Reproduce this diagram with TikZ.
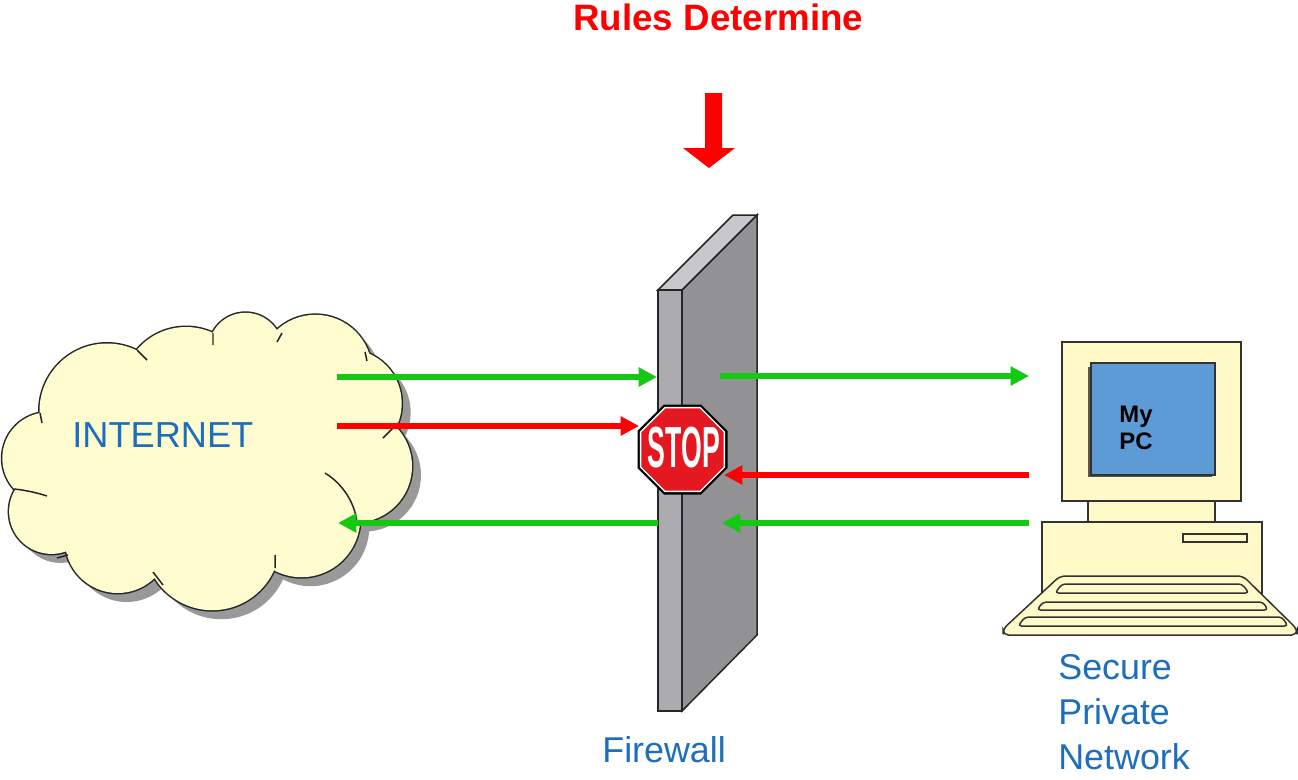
\documentclass[tikz,border=0pt]{standalone}
\usepackage{fontspec}
\setmainfont{Liberation Sans}
\usepackage{graphicx}
\usetikzlibrary{arrows.meta}
\definecolor{cloudfill}{RGB}{255,252,208}
\definecolor{pcfill}{RGB}{255,250,200}
\definecolor{txtblue}{RGB}{30,110,190}
\definecolor{agreen}{RGB}{20,200,20}
\definecolor{ared}{RGB}{255,0,0}
\definecolor{scrblue}{RGB}{92,155,213}
\definecolor{fwfront}{RGB}{172,172,176}
\definecolor{fwside}{RGB}{146,146,148}
\definecolor{fwtop}{RGB}{200,200,204}
\definecolor{stopred}{RGB}{228,24,32}
\newcommand\cloudcircles{(48.2,458.2) circle (45.9) (51.5,511.5) circle (42.4)
 (107,411) circle (67.5) (186,391) circle (64) (245.5,349.8) circle (37)
 (315.4,371.5) circle (56.7) (347.4,403.4) circle (54.3) (355.7,466.2) circle (56.3)
 (301.5,518.5) circle (58.7) (212.3,542.5) circle (67.7) (117.7,540.2) circle (52.8)}
\newcommand\cloudcore{(46,415) -- (139,356) -- (213,339) -- (278,338) -- (362,357) -- (392,424)
 -- (353,518) -- (275,562) -- (153,571) -- (70,548) -- (22,490) -- cycle}
\begin{document}
\begin{tikzpicture}[x=0.02cm,y=-0.02cm,
  outl/.style={draw=black!85, line width=0.85pt},
  flow/.style={line width=3.3pt, -{Triangle[length=10.5pt,width=10.5pt]}},
  gflow/.style={flow, draw=agreen},
  rflow/.style={flow, draw=ared},
  lbl/.style={text=txtblue, font=\fontsize{20.4}{24}\selectfont, anchor=base west, inner sep=0pt},
  pclbl/.style={text=black, font=\fontsize{13.6}{16}\selectfont\bfseries, anchor=base west, inner sep=0pt},
  pcpart/.style={draw=black!80, line width=0.85pt, fill=pcfill}
]
\useasboundingbox (0,0) rectangle (1298,779);
\fill[white] (0,0) rectangle (1298,779);

% ---- cloud ----
\begin{scope}[shift={(9,9)}]
  \fill[black!40] \cloudcircles;
  \fill[black!40] \cloudcore;
\end{scope}
\draw[draw=black!85, line width=1.7pt] \cloudcircles;
\fill[cloudfill] \cloudcircles;
\fill[cloudfill] \cloudcore;
\draw[draw=black!85, line width=0.85pt]
  (40,413) -- (42,423)
  (137,350) -- (147,360)
  (213,333) -- (213,345)
  (277,342) -- (282,333)
  (365,352) -- (367,361)
  (398,423) -- (383,438)
  (325,473) .. controls (343,484) and (355,503) .. (357,523)
  (275,555) -- (275,568)
  (153,572) -- (163,585)
  (68,555) -- (57,558)
  (14,489) .. controls (25,490) and (38,493) .. (47,496);
\node[lbl, font=\fontsize{20.6}{24}\selectfont] (internet) at (72,447) {INTERNET};

% ---- firewall ----
\draw[outl, fill=fwside] (682,290) -- (757,215) -- (757,635) -- (682,711) -- cycle;
\draw[outl, fill=fwtop] (658,290) -- (682,290) -- (757,215) -- (733,215) -- cycle;
\draw[outl, fill=fwfront] (658,290) rectangle (682,711);
\node[lbl] (fwlabel) at (602,762) {Firewall};

% ---- rules arrow ----
\node[anchor=base west, inner sep=0pt, text=ared, font=\fontsize{20.9}{24}\selectfont\bfseries] (rules) at (573,30) {Rules Determine};
\fill[ared] (705,93) -- (722,93) -- (722,148) -- (735,148) -- (709,168) -- (683,148) -- (705,148) -- cycle;

% ---- PC ----
\draw[pcpart] (1042,522) rectangle (1262,600);
\draw[pcpart] (1088,501) rectangle (1215,522);
\draw[pcpart] (1062,342) rectangle (1241,501);
\fill[black!65] (1088,367) rectangle (1212,476.5);
\draw[draw=black!80, line width=0.85pt, fill=scrblue] (1091,363) rectangle (1215,475);
\draw[pcpart] (1183,534) rectangle (1247,542);
\draw[pcpart, rounded corners=3pt] (1060,576) -- (1243,576) -- (1297,629) -- (1297,635) -- (1003,635) -- (1003,629) -- cycle;
\draw[pcpart, rounded corners=2pt] (1062,584) -- (1242,584) -- (1249,593) -- (1055,593) -- cycle;
\draw[pcpart, rounded corners=2pt] (1043,602) -- (1263,602) -- (1268,610) -- (1037,610) -- cycle;
\draw[pcpart, rounded corners=2pt] (1025,617) -- (1282,617) -- (1288,626) -- (1018,626) -- cycle;
\node[pclbl] (my) at (1119,422) {My};
\node[pclbl] (pc) at (1119,449) {PC};
\node[lbl] (sec1) at (1058,679) {Secure};
\node[lbl] (sec2) at (1058,724) {Private};
\node[lbl] (sec3) at (1058,769) {Network};

% ---- flows ----
\coordinate (g1s) at (337,377); \coordinate (g1e) at (657,377);
\coordinate (g2s) at (720,376); \coordinate (g2e) at (1029,376);
\coordinate (r1s) at (337,426); \coordinate (r1e) at (639,426);
\coordinate (r2s) at (1029,475); \coordinate (r2e) at (724,475);
\coordinate (g3s) at (1029,523); \coordinate (g3e) at (722,523);
\coordinate (g4s) at (658,523); \coordinate (g4e) at (338,523);
\draw[gflow] (g1s) -- (g1e);
\draw[gflow] (g2s) -- (g2e);
\draw[rflow] (r1s) -- (r1e);
\draw[rflow] (r2s) -- (r2e);
\draw[gflow] (g3s) -- (g3e);
\draw[gflow] (g4s) -- (g4e);

% ---- stop sign ----
\coordinate (stop) at (682.5,449.5);
\fill[black] (stop) +(22.5:48.7) -- +(67.5:48.7) -- +(112.5:48.7) -- +(157.5:48.7) -- +(202.5:48.7) -- +(247.5:48.7) -- +(292.5:48.7) -- +(337.5:48.7) -- cycle;
\fill[white] (stop) +(22.5:46.2) -- +(67.5:46.2) -- +(112.5:46.2) -- +(157.5:46.2) -- +(202.5:46.2) -- +(247.5:46.2) -- +(292.5:46.2) -- +(337.5:46.2) -- cycle;
\fill[stopred] (stop) +(22.5:44.6) -- +(67.5:44.6) -- +(112.5:44.6) -- +(157.5:44.6) -- +(202.5:44.6) -- +(247.5:44.6) -- +(292.5:44.6) -- +(337.5:44.6) -- cycle;
\node[text=white, inner sep=0pt, font=\fontsize{33}{33}\selectfont\bfseries] (stoptxt) at (684,448) {\scalebox{0.46}[1]{STOP}};
\end{tikzpicture}
\end{document}
